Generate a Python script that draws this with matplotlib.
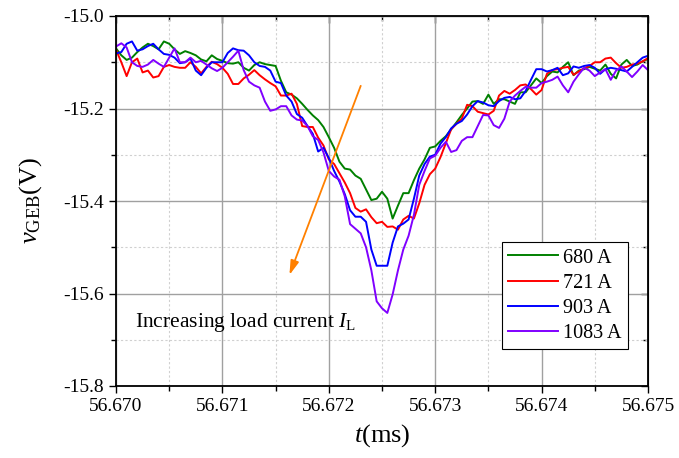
import numpy as np
import matplotlib
matplotlib.use("Agg")
import matplotlib.pyplot as plt
from matplotlib.ticker import MultipleLocator, FormatStrFormatter

plt.rcParams['font.family'] = ['Liberation Serif', 'DejaVu Serif']
plt.rcParams['mathtext.fontset'] = 'custom'
plt.rcParams['mathtext.rm'] = 'Liberation Serif'
plt.rcParams['mathtext.it'] = 'Liberation Serif:italic'
plt.rcParams['mathtext.bf'] = 'Liberation Serif:bold'

# time samples (ms), 0.00005 ms spacing
t = np.round(np.linspace(56.670, 56.675, 101), 5)

labels = ['680 A', '721 A', '903 A', '1083 A']
colors = ['#008000', '#FF0000', '#0000FF', '#8000FF']

v_680 = [-15.070, -15.085, -15.095, -15.090, -15.078, -15.068, -15.060, -15.065, -15.072, -15.055,
         -15.060, -15.072, -15.082, -15.076, -15.080, -15.085, -15.094, -15.098, -15.085, -15.093,
         -15.097, -15.102, -15.103, -15.100, -15.112, -15.118, -15.106, -15.100, -15.104, -15.106,
         -15.108, -15.140, -15.165, -15.170, -15.178, -15.190, -15.203, -15.215, -15.225, -15.240,
         -15.262, -15.285, -15.315, -15.330, -15.332, -15.345, -15.352, -15.375, -15.398, -15.395,
         -15.380, -15.395, -15.438, -15.410, -15.383, -15.383, -15.355, -15.330, -15.310, -15.285,
         -15.282, -15.270, -15.260, -15.245, -15.230, -15.214, -15.200, -15.185, -15.184, -15.190,
         -15.170, -15.190, -15.180, -15.180, -15.185, -15.190, -15.165, -15.165, -15.150, -15.135,
         -15.145, -15.130, -15.120, -15.122, -15.110, -15.100, -15.128, -15.118, -15.115, -15.110,
         -15.114, -15.118, -15.105, -15.125, -15.135, -15.105, -15.095, -15.108, -15.105, -15.098,
         -15.093]

v_721 = [-15.073, -15.100, -15.130, -15.100, -15.092, -15.122, -15.118, -15.133, -15.130, -15.110,
         -15.106, -15.110, -15.112, -15.112, -15.100, -15.110, -15.124, -15.110, -15.099, -15.104,
         -15.112, -15.125, -15.147, -15.147, -15.135, -15.127, -15.117, -15.128, -15.137, -15.145,
         -15.152, -15.172, -15.172, -15.168, -15.190, -15.238, -15.240, -15.240, -15.263, -15.280,
         -15.310, -15.320, -15.340, -15.360, -15.383, -15.415, -15.423, -15.418, -15.435, -15.448,
         -15.445, -15.456, -15.455, -15.462, -15.440, -15.432, -15.438, -15.405, -15.365, -15.342,
         -15.330, -15.305, -15.275, -15.245, -15.233, -15.222, -15.192, -15.195, -15.207, -15.210,
         -15.213, -15.205, -15.172, -15.162, -15.168, -15.160, -15.150, -15.148, -15.158, -15.170,
         -15.160, -15.125, -15.117, -15.115, -15.112, -15.110, -15.127, -15.120, -15.113, -15.108,
         -15.100, -15.100, -15.092, -15.090, -15.102, -15.112, -15.110, -15.105, -15.103, -15.098,
         -15.091]

v_903 = [-15.081, -15.078, -15.060, -15.055, -15.075, -15.072, -15.065, -15.060, -15.072, -15.082,
         -15.084, -15.090, -15.102, -15.100, -15.092, -15.118, -15.128, -15.112, -15.100, -15.100,
         -15.100, -15.080, -15.070, -15.074, -15.075, -15.085, -15.100, -15.108, -15.110, -15.118,
         -15.142, -15.145, -15.172, -15.185, -15.212, -15.220, -15.238, -15.255, -15.293, -15.285,
         -15.307, -15.335, -15.358, -15.385, -15.420, -15.434, -15.434, -15.445, -15.505, -15.540,
         -15.540, -15.540, -15.490, -15.455, -15.449, -15.440, -15.395, -15.345, -15.320, -15.304,
         -15.300, -15.276, -15.262, -15.243, -15.233, -15.227, -15.213, -15.195, -15.184, -15.187,
         -15.193, -15.195, -15.184, -15.177, -15.175, -15.180, -15.178, -15.162, -15.138, -15.115,
         -15.115, -15.120, -15.117, -15.112, -15.128, -15.124, -15.109, -15.112, -15.108, -15.106,
         -15.112, -15.125, -15.115, -15.112, -15.114, -15.117, -15.120, -15.110, -15.100, -15.090,
         -15.086]

v_1083 = [-15.066, -15.059, -15.068, -15.100, -15.108, -15.110, -15.105, -15.095, -15.103, -15.110,
          -15.090, -15.070, -15.100, -15.100, -15.090, -15.100, -15.097, -15.105, -15.113, -15.119,
          -15.112, -15.100, -15.088, -15.075, -15.117, -15.142, -15.150, -15.155, -15.185, -15.205,
          -15.202, -15.195, -15.195, -15.215, -15.224, -15.226, -15.238, -15.260, -15.268, -15.295,
          -15.335, -15.347, -15.354, -15.390, -15.450, -15.460, -15.470, -15.500, -15.550, -15.617,
          -15.632, -15.642, -15.602, -15.550, -15.505, -15.475, -15.430, -15.365, -15.335, -15.308,
          -15.302, -15.285, -15.272, -15.294, -15.290, -15.270, -15.262, -15.262, -15.238, -15.214,
          -15.215, -15.236, -15.242, -15.222, -15.185, -15.172, -15.162, -15.153, -15.155, -15.155,
          -15.145, -15.142, -15.138, -15.131, -15.150, -15.165, -15.142, -15.126, -15.112, -15.118,
          -15.130, -15.122, -15.115, -15.138, -15.118, -15.109, -15.120, -15.132, -15.120, -15.106,
          -15.117]

series = [v_680, v_721, v_903, v_1083]

# annotation arrow (data coordinates)
arrow_start = (56.67230, -15.151)
arrow_end = (56.67163, -15.560)
note_text = r'Increasing load current $I_{\rm L}$'

fig = plt.figure(figsize=(6.79, 4.58), dpi=100)
ax = fig.add_axes([116/679, 1-386/458, (648-116)/679, (386-16)/458])

for v, c, lab in zip(series, colors, labels):
    ax.plot(t, v, color=c, lw=1.4, label=lab)

ax.set_xlim(56.670, 56.675)
ax.set_ylim(-15.8, -15.0)
ax.xaxis.set_major_locator(MultipleLocator(0.001))
ax.xaxis.set_minor_locator(MultipleLocator(0.0005))
ax.yaxis.set_major_locator(MultipleLocator(0.2))
ax.yaxis.set_minor_locator(MultipleLocator(0.1))
ax.xaxis.set_major_formatter(FormatStrFormatter('%.3f'))
ax.yaxis.set_major_formatter(FormatStrFormatter('%.1f'))

ax.grid(which='major', color='#a0a0a0', lw=1.0, ls='-')
ax.grid(which='minor', color='#d0d0d0', lw=0.8, ls=(0, (2, 2)))
ax.set_axisbelow(True)

ax.tick_params(which='both', direction='out', labelsize=14, width=1.0, color='black')
ax.tick_params(which='major', length=5)
ax.tick_params(which='minor', length=3.5)
for s in ax.spines.values():
    s.set_linewidth(1.3)

secx = ax.secondary_xaxis('top')
secx.xaxis.set_major_locator(MultipleLocator(0.001))
secx.xaxis.set_minor_locator(MultipleLocator(0.0005))
secx.tick_params(which='both', direction='in', labeltop=False, width=1.0)
secx.tick_params(which='major', length=5)
secx.tick_params(which='minor', length=3.5)
secy = ax.secondary_yaxis('right')
secy.yaxis.set_major_locator(MultipleLocator(0.2))
secy.yaxis.set_minor_locator(MultipleLocator(0.1))
secy.tick_params(which='both', direction='in', labelright=False, width=1.0)
secy.tick_params(which='major', length=5)
secy.tick_params(which='minor', length=3.5)

ax.set_xlabel(r'$t$(ms)', fontsize=19, labelpad=5)
ax.set_ylabel(r'$v_{\rm GEB}$(V)', fontsize=19, labelpad=14)

ax.annotate('', xy=arrow_end, xytext=arrow_start,
            arrowprops=dict(arrowstyle='-|>,head_length=0.85,head_width=0.25',
                            color='#FF8000', lw=1.3, mutation_scale=10,
                            shrinkA=0, shrinkB=0))
ax.text((135-116)/532, (386-327)/370, note_text, transform=ax.transAxes,
        fontsize=15.5, ha='left', va='baseline')

leg = ax.legend(loc='lower right', bbox_to_anchor=(628/679, 1-349/458),
                bbox_transform=fig.transFigure, borderaxespad=0,
                fontsize=14.5, handlelength=2.5, handletextpad=0.25,
                labelspacing=0.3, borderpad=0.3, fancybox=False,
                framealpha=1, edgecolor='black')
leg.get_frame().set_linewidth(0.8)

fig.savefig('out.png', dpi=100)
